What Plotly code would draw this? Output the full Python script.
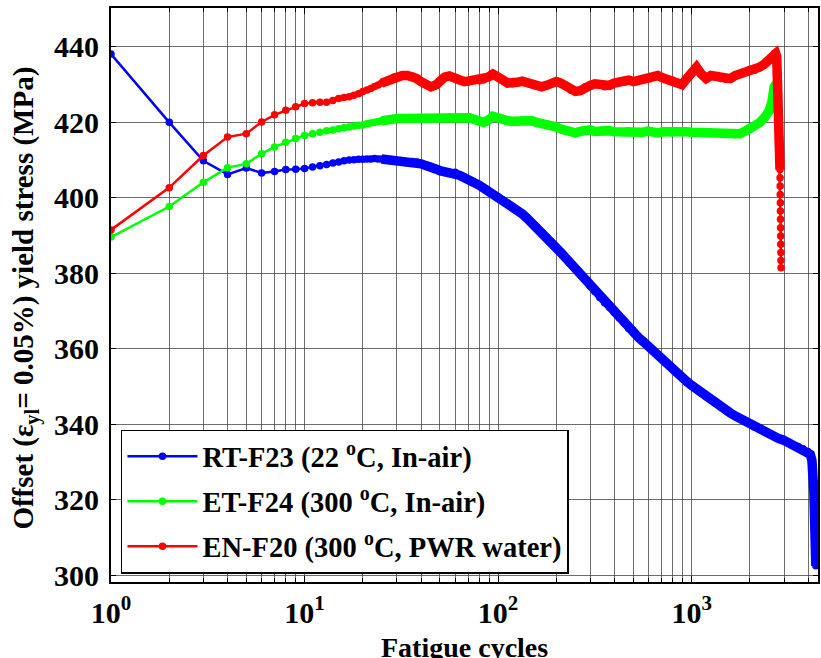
import plotly.graph_objects as go

# ---------------- data ----------------
cycles_early = list(range(1, 31))
cycles_mid = [32, 34, 36, 38, 40, 42, 45, 48, 50, 53, 56, 60, 63, 67, 71, 75, 80, 84, 89, 94,
              100, 106, 112, 119, 126, 133, 141, 150, 158, 168, 178, 188, 200, 211, 224, 237,
              251, 266, 282, 299, 316, 335, 355, 376, 398, 422, 447, 473, 501, 531, 562, 596,
              631, 668, 708, 750, 794, 841, 891, 944, 1000, 1059, 1122, 1189, 1259, 1334, 1413,
              1496, 1585, 1679, 1778, 1884, 1995, 2113, 2239, 2371, 2512]

# RT-F23 (22 C, in-air)
rt_cycles_tail = [2661, 2818, 2985, 3162, 3350, 3548, 3758, 3981, 4100, 4180, 4240, 4280, 4310,
                  4340, 4360, 4380]
rt_stress = [438.1, 420.0, 409.8, 406.2, 407.9, 406.6, 407.0, 407.5, 407.6, 407.8,
             408.2, 408.5, 408.8, 409.2, 409.5, 409.8, 410.0, 410.1, 410.2, 410.2,
             410.3, 410.3, 410.4, 410.3, 410.3, 410.2, 410.1, 410.0, 409.8, 409.6,
             409.4, 409.3, 409.6, 409.5, 409.0, 408.6, 408.3, 407.6, 407.2, 407.0,
             406.8, 406.8, 406.0, 405.3, 404.8, 404.2, 403.3, 402.6, 401.8, 401.1,
             400.3, 399.4, 398.5, 397.5, 396.6, 395.8, 394.6, 393.3, 392.3, 390.8,
             389.6, 388.3, 386.8, 385.5, 384.0, 382.6, 381.2, 379.8, 378.2, 376.6,
             375.2, 373.6, 372.2, 371.0, 369.6, 368.2, 366.8, 365.4, 364.2, 363.0,
             361.9, 360.6, 359.4, 358.3, 357.1, 355.9, 354.7, 353.6, 352.4, 351.3,
             350.3, 349.3, 348.3, 347.3, 346.4, 345.5, 344.6, 343.8, 343.0, 342.2,
             341.5, 340.7, 340.0, 339.3, 338.6, 338.0, 337.4,
             336.8, 336.2, 335.8, 335.2, 334.6, 334.1, 333.5, 332.8, 332.0, 330.5,
             327.0, 322.0, 316.0, 310.0, 305.0, 302.5]

# ET-F24 (300 C, in-air)
et_cycles_tail = [2600, 2650, 2680]
et_stress = [389.6, 397.7, 404.1, 408.0, 409.0, 411.7, 413.5, 414.7, 415.7, 416.5,
             417.0, 417.4, 417.8, 418.0, 418.3, 418.6, 418.8, 419.0, 419.2, 419.3,
             419.6, 419.8, 420.0, 420.2, 420.4, 420.6, 420.7, 420.8, 420.9, 421.0,
             421.0, 421.0, 421.2, 421.1, 421.0, 421.2, 421.0, 421.3, 421.2, 421.3,
             421.4, 421.2, 421.3, 421.5, 421.2, 420.8, 420.2, 420.0, 420.6, 421.6,
             421.2, 420.6, 420.4, 420.3, 420.4, 420.6, 420.7, 420.4, 420.0, 419.8,
             419.6, 419.2, 418.8, 418.2, 417.8, 417.4, 417.2, 417.6, 418.0, 418.0,
             417.6, 417.8, 418.0, 417.8, 417.5, 417.4, 417.6, 417.8, 417.5, 417.3,
             417.4, 417.7, 417.4, 417.2, 417.5, 417.6, 417.2, 417.4, 417.3, 417.5,
             417.4, 417.3, 417.2, 417.1, 417.3, 417.2, 417.0, 417.1, 416.8, 416.7,
             417.0, 417.6, 418.2, 419.0, 419.9, 421.2, 423.0,
             425.5, 428.0, 430.0]

# EN-F20 (300 C, PWR water)
en_cycles_tail = [2600, 2680, 2720, 2750, 2780, 2800, 2820, 2835, 2860, 2863, 2866, 2869,
                  2872, 2875, 2878, 2881, 2884, 2887, 2890, 2893, 2896]
en_stress = [391.5, 402.7, 411.2, 416.1, 417.0, 420.1, 422.0, 423.2, 424.1, 425.0,
             425.2, 425.3, 425.3, 425.8, 426.3, 426.6, 426.8, 427.2, 427.6, 428.2,
             428.6, 429.0, 429.5, 429.9, 430.4, 430.8, 431.2, 431.6, 432.0, 432.2,
             432.4, 432.4, 432.3, 431.6, 430.8, 430.0, 429.4, 430.0, 431.0, 432.0,
             432.3, 431.6, 431.0, 430.8, 431.0, 431.2, 431.0, 431.2, 432.0, 432.8,
             432.2, 431.2, 430.4, 430.2, 430.6, 430.9, 430.6, 430.0, 429.6, 429.4,
             429.8, 430.4, 430.8, 430.4, 429.6, 428.6, 428.2, 428.4, 429.4, 429.8,
             430.2, 430.0, 429.4, 429.8, 430.4, 430.8, 430.6, 431.2, 430.8, 431.0,
             431.6, 431.4, 432.0, 432.4, 431.8, 431.4, 431.2, 430.6, 430.0, 431.6,
             433.0, 434.6, 432.8, 431.6, 432.4, 432.2, 431.6, 431.4, 431.6, 432.4,
             432.8, 433.2, 434.0, 433.8, 434.6, 435.4, 436.4,
             437.4, 438.3, 438.2, 437.5, 432.0, 425.0, 416.0, 409.0, 407.5, 405.3,
             403.1, 400.9, 398.7, 396.5, 394.3, 392.1, 389.9, 387.7, 385.5, 383.4, 381.5]

rt_cycles = cycles_early + cycles_mid + rt_cycles_tail
et_cycles = cycles_early + cycles_mid + et_cycles_tail
en_cycles = cycles_early + cycles_mid + en_cycles_tail

series = [
    ("RT-F23 (22 <sup>o</sup>C, In-air)", rt_cycles, rt_stress, "#0000FF", "g1", None),
    ("ET-F24 (300 <sup>o</sup>C, In-air)", et_cycles, et_stress, "#00FF00", "g2", None),
    ("EN-F20 (300 <sup>o</sup>C, PWR water)", en_cycles, en_stress, "#FF0000", "g3", -12),
]

x_major = [1, 10, 100, 1000]
x_major_text = ["10<sup>0</sup>", "10<sup>1</sup>", "10<sup>2</sup>", "10<sup>3</sup>"]
x_minor = [m * d for d in (1, 10, 100) for m in range(2, 10)] + [2000, 3000, 4000]
y_ticks = [300, 320, 340, 360, 380, 400, 420, 440]

FONT = "Liberation Serif, Times New Roman, serif"

fig = go.Figure()
for name, xs, ys, col, grp, band_end in series:
    # dense part of the record drawn as a thick band (many overlapping markers in the original)
    fig.add_trace(go.Scatter(
        x=xs[24:band_end], y=ys[24:band_end], mode="lines", legendgroup=grp, showlegend=False,
        line=dict(color=col, width=9.5), hoverinfo="skip",
    ))
    fig.add_trace(go.Scatter(
        x=xs, y=ys, mode="lines+markers", name="<b>" + name + "</b>", legendgroup=grp,
        line=dict(color=col, width=2.5),
        marker=dict(color=col, size=7.5, symbol="circle"),
    ))

grid_col = "rgba(60,60,60,0.75)"
fig.update_layout(
    width=821, height=658,
    margin=dict(l=111, r=1, t=8, b=76),
    paper_bgcolor="white", plot_bgcolor="white",
    font=dict(family=FONT, size=30, color="black"),
    showlegend=True,
    legend=dict(
        x=0.0141, y=0.0146, xanchor="left", yanchor="bottom",
        bgcolor="white", bordercolor="black", borderwidth=1.5,
        font=dict(family=FONT, size=28.5, color="black"),
        itemwidth=70, tracegroupgap=5, traceorder="grouped",
    ),
    xaxis=dict(
        type="log", range=[0, 3.6527],
        tickmode="array", tickvals=x_major, ticktext=["<b>" + t + "</b>" for t in x_major_text],
        ticks="inside", ticklen=6, tickwidth=1, tickcolor="black",
        showline=True, linecolor="black", linewidth=2, mirror="ticks",
        showgrid=True, gridcolor=grid_col, gridwidth=1,
        tickfont=dict(family=FONT, size=30, color="black"),
        zeroline=False, ticklabelstandoff=3,
        minor=dict(tickmode="array", tickvals=x_minor, ticks="inside", ticklen=4,
                   tickcolor="black", showgrid=True, gridcolor=grid_col, gridwidth=1),
    ),
    yaxis=dict(
        range=[298.2, 450.3],
        tickmode="array", tickvals=y_ticks, ticktext=["<b>%d</b>" % v for v in y_ticks],
        ticks="inside", ticklen=5, tickwidth=1, tickcolor="black",
        showline=True, linecolor="black", linewidth=2, mirror="ticks",
        showgrid=True, gridcolor=grid_col, gridwidth=1,
        tickfont=dict(family=FONT, size=30, color="black"),
        zeroline=False, ticklabelstandoff=4,
    ),
    annotations=[
        dict(text="<b>Offset (ε<sub>yl</sub>= 0.05%) yield stress (MPa)</b>",
             xref="paper", yref="paper", x=-0.121, y=0.4945, textangle=-90,
             xanchor="center", yanchor="middle", showarrow=False,
             font=dict(family=FONT, size=29, color="black")),
        dict(text="<b>Fatigue cycles</b>", xref="paper", yref="paper", x=0.5, y=-0.114,
             xanchor="center", yanchor="middle", showarrow=False,
             font=dict(family=FONT, size=28, color="black")),
    ],
)

# remove the default 8 px page margin so the figure sits at the window's top-left corner
fig.write_html("out.html", config={"displayModeBar": False},
               post_script="document.body.style.margin='0';")
